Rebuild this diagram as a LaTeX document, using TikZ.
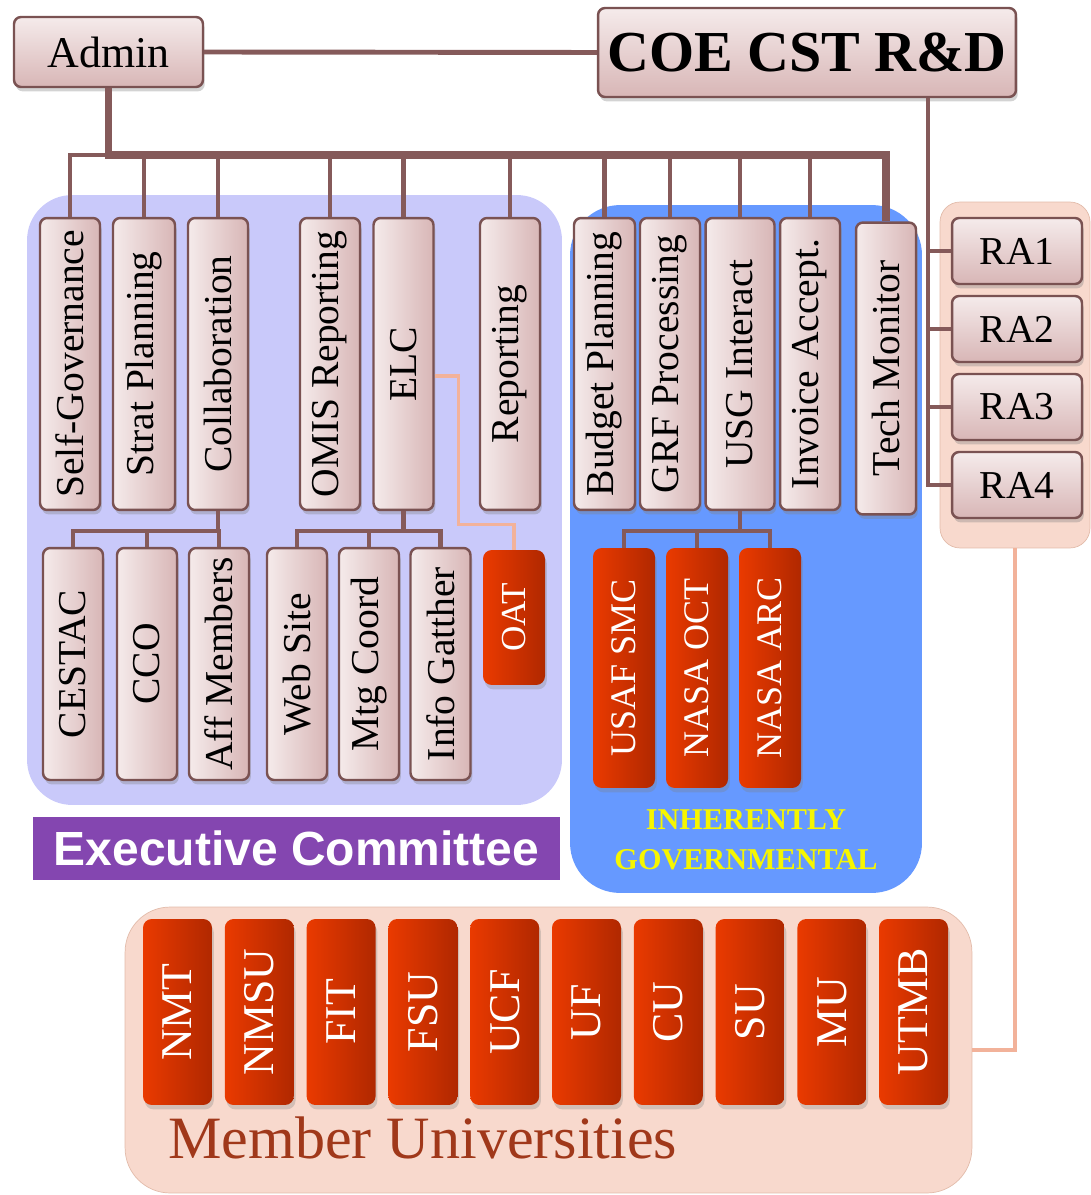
\documentclass[tikz,border=0pt]{standalone}
\usepackage{fontspec}
\setmainfont{Liberation Serif}
\newfontfamily\labelfont{Liberation Sans}
\usetikzlibrary{calc}
\usetikzlibrary{shadows}

\definecolor{linebrown}{HTML}{855A5A}
\definecolor{boxedge}{HTML}{7A5252}
\definecolor{boxlight}{HTML}{F5EBEB}
\definecolor{boxdark}{HTML}{D8B6B6}
\definecolor{redlight}{HTML}{EA3A00}
\definecolor{reddark}{HTML}{B02800}
\definecolor{ecfill}{HTML}{C9C9FA}
\definecolor{govfill}{HTML}{6699FF}
\definecolor{peachfill}{HTML}{F8D9CD}
\definecolor{peachedge}{HTML}{E2BBAA}
\definecolor{linkpeach}{HTML}{F2B29A}
\definecolor{execpurple}{HTML}{8446B0}
\definecolor{govyellow}{HTML}{F6F600}
\definecolor{unitext}{HTML}{A0381A}

\newcommand{\vtext}[1]{\rotatebox{90}{#1}}

\tikzset{
  panel/.style={rounded corners=0.9cm, inner sep=0pt},
  unit/.style={draw=boxedge, line width=1.4pt, rounded corners=4pt,
    left color=boxlight, right color=boxdark, inner sep=0pt,
    minimum width=1.2cm, minimum height=5.84cm,
    font=\fontsize{22.5}{26}\selectfont,
    drop shadow={opacity=0.35, shadow xshift=1pt, shadow yshift=-2.5pt}},
  subunit/.style={unit, minimum height=4.64cm},
  rabox/.style={unit, minimum width=2.6cm, minimum height=1.32cm,
    top color=boxlight, bottom color=boxdark,
    font=\fontsize{22.5}{26}\selectfont},
  govunit/.style={draw=none, rounded corners=5pt,
    left color=redlight, right color=reddark, text=white, inner sep=0pt,
    minimum width=1.24cm, minimum height=4.8cm,
    font=\fontsize{20.5}{24}\selectfont,
    drop shadow={opacity=0.3, shadow xshift=1pt, shadow yshift=-2.5pt}},
  uniunit/.style={govunit, minimum width=1.38cm, minimum height=3.72cm,
    font=\fontsize{25}{28}\selectfont},
  bus/.style={draw=linebrown, line width=4.2pt},
  branch/.style={draw=linebrown, line width=2.8pt},
  link/.style={draw=linkpeach, line width=2pt}
}

\begin{document}
\begin{tikzpicture}[x=0.02cm, y=-0.02cm]
        \useasboundingbox (0,0) rectangle (1090,1195);

        % panels
        \node[panel, fill=ecfill, minimum width=10.7cm, minimum height=12.2cm] (ecpanel) at (294.5,500) {};
        \node[panel, fill=govfill, rounded corners=1cm, minimum width=7.04cm, minimum height=13.76cm] (govpanel) at (746,549) {};
        \node[panel, fill=peachfill, draw=peachedge, thin, rounded corners=0.4cm, minimum width=3cm, minimum height=6.92cm] (rapanel) at (1015,375) {};
        \node[panel, fill=peachfill, draw=peachedge, thin, minimum width=16.94cm, minimum height=5.72cm] (unipanel) at (548.5,1050) {};

        % top boxes
        \node[unit, minimum width=3.78cm, minimum height=1.4cm, top color=boxlight, bottom color=boxdark, font=\fontsize{25}{28}\selectfont] (admin) at (108.5,52) {Admin};
        \node[unit, minimum width=8.36cm, minimum height=1.78cm, top color=boxlight, bottom color=boxdark, font=\fontsize{33}{36}\selectfont\bfseries] (coe) at (807,52.5) {COE CST R\&D};

        % first line
        \node[unit] (sg) at (70,364) {\vtext{Self-Governance}};
        \node[unit, minimum width=1.24cm] (sp) at (144,364) {\vtext{Strat Planning}};
        \node[unit] (co) at (218,364) {\vtext{Collaboration}};
        \node[unit] (om) at (330,364) {\vtext{OMIS Reporting}};
        \node[unit] (elc) at (403.5,364) {\vtext{ELC}};
        \node[unit] (rep) at (510,364) {\vtext{Reporting}};
        \node[unit, minimum width=1.22cm] (bud) at (604.5,364) {\vtext{Budget Planning}};
        \node[unit] (grf) at (670,364) {\vtext{GRF Processing}};
        \node[unit, minimum width=1.38cm] (usg) at (740,364) {\vtext{USG Interact}};
        \node[unit] (inv) at (810,364) {\vtext{Invoice Accept.}};
        \node[unit] (tech) at (886,368.5) {\vtext{Tech Monitor}};

        % sec line
        \node[subunit] (cestac) at (73,664) {\vtext{CESTAC}};
        \node[subunit] (cco) at (147,664) {\vtext{CCO}};
        \node[subunit] (aff) at (219,664) {\vtext{Aff Members}};
        \node[subunit] (web) at (297,664) {\vtext{Web Site}};
        \node[subunit] (mtg) at (369,664) {\vtext{Mtg Coord}};
        \node[subunit] (info) at (440.5,664) {\vtext{Info Gatther}};
        \node[govunit, minimum height=2.7cm, font=\fontsize{20}{24}\selectfont] (oat) at (514,617.5) {\vtext{OAT}};

        \node[govunit] (usaf) at (624,668) {\vtext{USAF SMC}};
        \node[govunit] (oct) at (697,668) {\vtext{NASA OCT}};
        \node[govunit] (arc) at (770,668) {\vtext{NASA ARC}};

        % RA column
        \node[rabox] (ra1) at (1017,251) {RA1};
        \node[rabox] (ra2) at (1017,329) {RA2};
        \node[rabox] (ra3) at (1017,407) {RA3};
        \node[rabox] (ra4) at (1017,485) {RA4};

        % universities
        \node[uniunit] (nmt) at (177.5,1012) {\vtext{NMT}};
        \node[uniunit] (nmsu) at (259.3,1012) {\vtext{NMSU}};
        \node[uniunit] (fit) at (341.1,1012) {\vtext{FIT}};
        \node[uniunit] (fsu) at (422.9,1012) {\vtext{FSU}};
        \node[uniunit] (ucf) at (504.7,1012) {\vtext{UCF}};
        \node[uniunit] (uf) at (586.5,1012) {\vtext{UF}};
        \node[uniunit] (cu) at (668.3,1012) {\vtext{CU}};
        \node[uniunit] (su) at (750.1,1012) {\vtext{SU}};
        \node[uniunit] (mu) at (831.9,1012) {\vtext{MU}};
        \node[uniunit] (utmb) at (913.5,1012) {\vtext{UTMB}};

        % labels
        \node[fill=execpurple, text=white, inner sep=0pt, minimum width=10.54cm, minimum height=1.26cm, font=\labelfont\bfseries\fontsize{27.3}{30}\selectfont] (eclabel) at (296.5,848.5) {Executive Committee};
        \node[text=govyellow, align=center, font=\fontsize{17.2}{22.7}\selectfont\bfseries] (govlabel) at (746,840) {INHERENTLY\\GOVERNMENTAL};
        \node[text=unitext, anchor=base west, inner sep=0pt, font=\fontsize{34.2}{38}\selectfont] (unilabel) at (168,1158) {Member Universities};

        % connectors
        \coordinate (busline) at (0,155);
        \coordinate (rowjoin) at (0,531);
        \coordinate (radrop) at (928,0);
        \draw[branch] (admin.east) -- (coe.west);
        \draw[bus] (admin.south) -- (admin.south |- busline) -| (tech.north);
        \draw[branch] (sg.north) |- (admin.south |- busline);
        \draw[branch] (sp.north) -- (sp.north |- busline);
        \draw[branch] (co.north) -- (co.north |- busline);
        \draw[branch] (om.north) -- (om.north |- busline);
        \draw[branch] (elc.north) -- (elc.north |- busline);
        \draw[branch] (rep.north) -- (rep.north |- busline);
        \draw[branch] (bud.north) -- (bud.north |- busline);
        \draw[branch] (grf.north) -- (grf.north |- busline);
        \draw[branch] (usg.north) -- (usg.north |- busline);
        \draw[branch] (inv.north) -- (inv.north |- busline);

        \draw[branch] (coe.south -| radrop) |- (ra4.west);
        \draw[branch] (ra1.west -| radrop) -- (ra1.west);
        \draw[branch] (ra2.west -| radrop) -- (ra2.west);
        \draw[branch] (ra3.west -| radrop) -- (ra3.west);

        \draw[branch] (co.south) -- (co.south |- rowjoin);
        \draw[branch] (cestac.north) |- (co.south |- rowjoin) -| (aff.north);
        \draw[branch] (cco.north) -- (cco.north |- rowjoin);

        \draw[branch] (elc.south) -- (elc.south |- rowjoin);
        \draw[branch] (web.north) |- (elc.south |- rowjoin) -| (info.north);
        \draw[branch] (mtg.north) -- (mtg.north |- rowjoin);

        \draw[branch] (usg.south) -- (usg.south |- rowjoin);
        \draw[branch] (usaf.north) |- (usg.south |- rowjoin) -| (arc.north);
        \draw[branch] (oct.north) -- (oct.north |- rowjoin);

        \draw[link] ([yshift=-0.24cm]elc.east) -- ++(24,0) |- ([yshift=0.5cm]oat.north) -- (oat.north);
        \draw[link] (rapanel.south) |- (unipanel.east);

    \end{tikzpicture}
\end{document}
